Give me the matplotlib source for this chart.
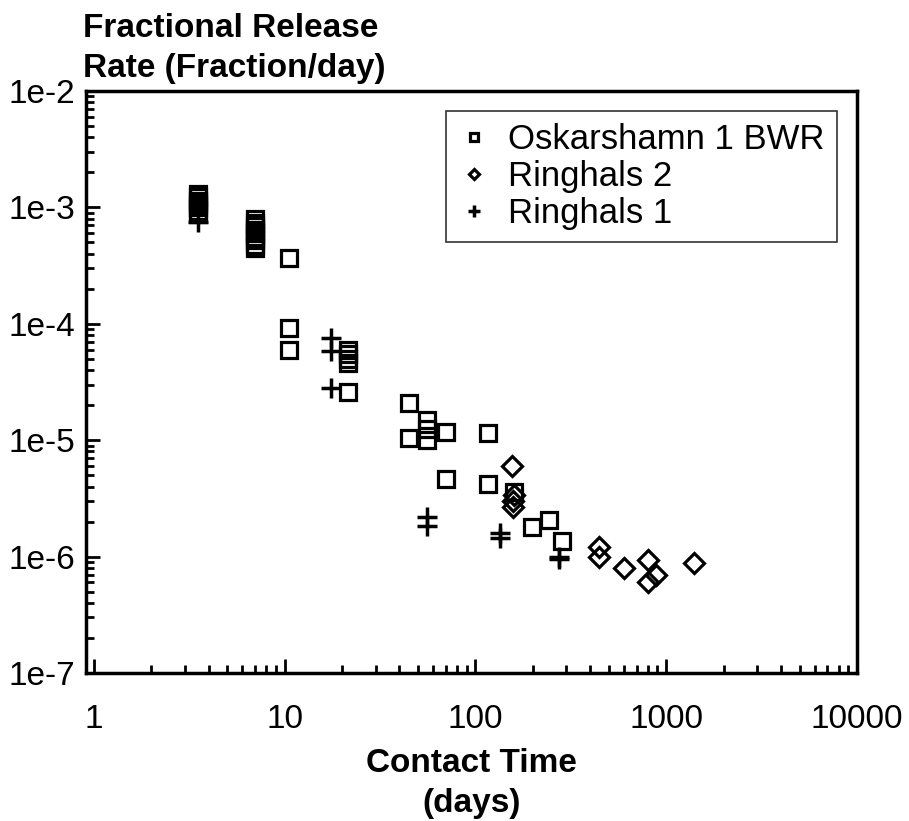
import matplotlib
matplotlib.use("Agg")
import matplotlib.pyplot as plt
from matplotlib.ticker import LogLocator, NullFormatter, FixedLocator, FixedFormatter

plt.rcParams['font.family'] = ['Liberation Sans', 'DejaVu Sans']

# Oskarshamn 1 BWR (squares)
osk_x = [3.5, 3.5, 3.5, 3.5, 3.5, 3.5, 3.5,
         7, 7, 7, 7, 7, 7, 7, 7, 7,
         10.6, 10.6, 10.6,
         21.5, 21.5, 21.5, 21.5, 21.5,
         45, 45, 56, 56, 56, 70, 117, 70, 117,
         160, 197, 242, 284]
osk_y = [1.30e-3, 1.22e-3, 1.14e-3, 1.07e-3, 1.0e-3, 9.4e-4, 8.8e-4,
         7.9e-4, 7.4e-4, 6.9e-4, 6.4e-4, 6.0e-4, 5.6e-4, 5.2e-4, 4.8e-4, 4.5e-4,
         3.7e-4, 9.2e-5, 6.0e-5,
         6.0e-5, 5.5e-5, 5.0e-5, 4.6e-5, 2.6e-5,
         2.1e-5, 1.05e-5, 1.5e-5, 1.25e-5, 1.0e-5, 1.18e-5, 1.15e-5, 4.6e-6, 4.2e-6,
         3.6e-6, 1.8e-6, 2.05e-6, 1.35e-6]

# Ringhals 2 (diamonds)
r2_x = [155, 160, 158, 157, 444, 444, 600, 804, 886, 800, 1400]
r2_y = [6.0e-6, 3.4e-6, 3.0e-6, 2.65e-6, 1.21e-6, 1.0e-6, 8.0e-7, 9.3e-7, 7.0e-7, 6.1e-7, 8.8e-7]

# Ringhals 1 (plus)
r1_x = [3.5, 17.5, 17.5, 17.5, 56, 56, 134, 134, 273, 273]
r1_y = [7.5e-4, 7.5e-5, 5.8e-5, 2.8e-5, 2.2e-6, 1.85e-6, 1.6e-6, 1.45e-6, 1.0e-6, 9.5e-7]

xticks = [1, 10, 100, 1000, 10000]
xtick_labels = ['1', '10', '100', '1000', '10000']
yticks = [1e-7, 1e-6, 1e-5, 1e-4, 1e-3, 1e-2]
ytick_labels = ['1e-7', '1e-6', '1e-5', '1e-4', '1e-3', '1e-2']

W, H = 909, 821
fig = plt.figure(figsize=(W / 100, H / 100), dpi=100)
ax = fig.add_axes([86 / W, 1 - 673 / H, (857 - 86) / W, (673 - 91) / H])

ax.set_xscale('log')
ax.set_yscale('log')
ax.set_xlim(0.91, 10000)
ax.set_ylim(1e-7, 1e-2)

ax.plot(osk_x, osk_y, linestyle='none', marker='s', markersize=11.5,
        markerfacecolor='none', markeredgecolor='black', markeredgewidth=2.3,
        label='Oskarshamn 1 BWR')
ax.plot(r2_x, r2_y, linestyle='none', marker='D', markersize=10,
        markerfacecolor='none', markeredgecolor='black', markeredgewidth=2.3,
        label='Ringhals 2')
ax.plot(r1_x, r1_y, linestyle='none', marker='+', markersize=15,
        markeredgecolor='black', markeredgewidth=2.5, label='Ringhals 1')

ax.xaxis.set_major_locator(FixedLocator(xticks))
ax.xaxis.set_major_formatter(FixedFormatter(xtick_labels))
ax.yaxis.set_major_locator(FixedLocator(yticks))
ax.yaxis.set_major_formatter(FixedFormatter(ytick_labels))
ax.xaxis.set_minor_locator(LogLocator(base=10, subs=range(2, 10)))
ax.yaxis.set_minor_locator(LogLocator(base=10, subs=range(2, 10)))
ax.xaxis.set_minor_formatter(NullFormatter())
ax.yaxis.set_minor_formatter(NullFormatter())

ax.tick_params(which='both', direction='in', top=False, right=False,
               width=2, color='black')
ax.tick_params(which='major', length=10, labelsize=24)
ax.tick_params(which='minor', length=6)
ax.tick_params(axis='y', which='major', pad=8)
ax.tick_params(axis='x', which='major', pad=22)
for s in ax.spines.values():
    s.set_linewidth(2.5)

fig.text(83 / W, 1 - 37 / H, 'Fractional Release', fontsize=24,
         fontweight='bold', ha='left', va='baseline')
fig.text(83 / W, 1 - 77 / H, 'Rate (Fraction/day)', fontsize=24,
         fontweight='bold', ha='left', va='baseline')

ax.set_xlabel('Contact Time\n(days)', fontsize=24, fontweight='bold',
              labelpad=10, linespacing=1.35)

leg = ax.legend(loc='upper right', bbox_to_anchor=(0.974, 0.966),
                borderaxespad=0, fontsize=25, markerscale=0.55,
                frameon=True, fancybox=False, edgecolor='black',
                handlelength=0.9, handletextpad=0.55, labelspacing=0.12,
                borderpad=0.35)
leg.get_frame().set_linewidth(1.2)

fig.savefig('out.png', dpi=100)
